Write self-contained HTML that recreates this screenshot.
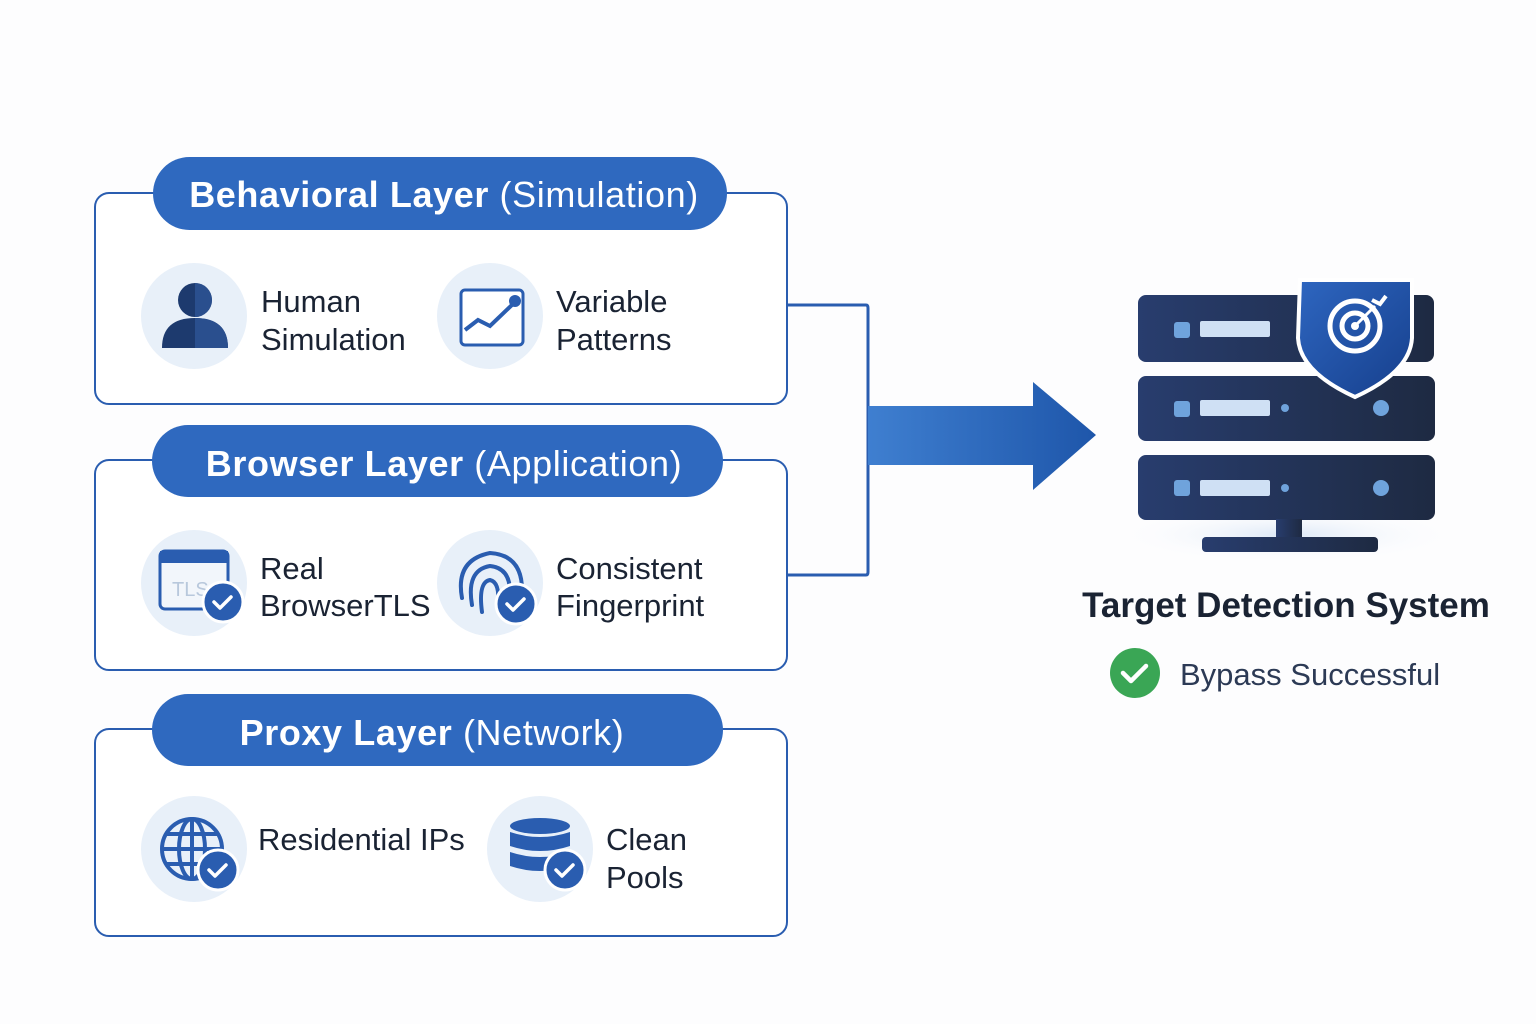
<!DOCTYPE html>
<html><head><meta charset="utf-8"><style>
html,body{margin:0;padding:0;background:#fdfdfe}
svg{display:block}
text{font-family:"Liberation Sans",sans-serif}
</style></head><body>
<svg width="1536" height="1024" viewBox="0 0 1536 1024" xmlns="http://www.w3.org/2000/svg">
<defs>
<linearGradient id="ar" x1="0" x2="1"><stop offset="0" stop-color="#3f7fd0"/><stop offset="1" stop-color="#1e56aa"/></linearGradient>
<linearGradient id="sv" x1="0" x2="1"><stop offset="0" stop-color="#283d6e"/><stop offset="1" stop-color="#1e2a42"/></linearGradient>
<linearGradient id="sh" x1="0" x2="1" y1="0" y2="1"><stop offset="0" stop-color="#2e66c0"/><stop offset="1" stop-color="#163f8c"/></linearGradient>
<radialGradient id="glow"><stop offset="0" stop-color="#dce8f7"/><stop offset="1" stop-color="#fdfdfe" stop-opacity="0"/></radialGradient>
</defs>
<rect width="1536" height="1024" fill="#fdfdfe"/>
<path d="M787 305 H866 Q868 305 868 308 V572 Q868 575 866 575 H787" fill="none" stroke="#2a5db0" stroke-width="3"/>
<path d="M868 406 H1033 V382 L1096 435 L1033 490 V465 H868 Z" fill="url(#ar)"/>
<g fill="#fff" stroke="#2a5db0" stroke-width="2">
<rect x="95" y="193" width="692" height="211" rx="14"/>
<rect x="95" y="460" width="692" height="210" rx="14"/>
<rect x="95" y="729" width="692" height="207" rx="14"/>
</g>
<g fill="#2f69bf">
<rect x="153" y="157" width="574" height="73" rx="36.5"/>
<rect x="152" y="425" width="571" height="72" rx="36"/>
<rect x="152" y="694" width="571" height="72" rx="36"/>
</g>
<g fill="#fff" font-size="36" text-anchor="middle" letter-spacing="0.6">
<text x="444" y="207"><tspan font-weight="bold">Behavioral Layer</tspan> (Simulation)</text>
<text x="444" y="476"><tspan font-weight="bold">Browser Layer</tspan> (Application)</text>
<text x="432" y="745"><tspan font-weight="bold">Proxy Layer</tspan> (Network)</text>
</g>
<g fill="#e8f0f9">
<circle cx="194" cy="316" r="53"/><circle cx="490" cy="316" r="53"/>
<circle cx="194" cy="583" r="53"/><circle cx="490" cy="583" r="53"/>
<circle cx="194" cy="849" r="53"/><circle cx="540" cy="849" r="53"/>
</g>
<circle cx="195" cy="300" r="17" fill="#1d3a6e"/>
<path d="M162 348 Q162 318 195 318 Q228 318 228 348 Z" fill="#1d3a6e"/>
<path d="M195 283 A17 17 0 0 1 195 317 Z M195 318 Q228 318 228 348 H195Z" fill="#2a4f8e"/>
<rect x="461" y="290" width="62" height="55" rx="4" fill="#fff" stroke="#2a5db0" stroke-width="3"/>
<polyline points="465,330 478,320 490,326 515,302" fill="none" stroke="#2a5db0" stroke-width="4"/>
<circle cx="515" cy="301" r="6" fill="#2a5db0"/>
<rect x="160" y="551" width="68" height="58" rx="5" fill="#f2f6fb" stroke="#2a5db0" stroke-width="3"/>
<rect x="160" y="551" width="68" height="12" fill="#2a5db0"/>
<text x="172" y="596" font-size="20" fill="#b8c8dc">TLS</text>
<g fill="none" stroke="#2a5db0" stroke-width="4" stroke-linecap="round">
<path d="M462 598 Q455 560 490 553 Q522 555 522 590"/>
<path d="M472 605 Q466 570 490 566 Q510 568 510 592"/>
<path d="M482 612 Q478 582 490 580 Q500 582 498 605"/>
</g>
<g fill="none" stroke="#2a5db0" stroke-width="4">
<circle cx="192" cy="849" r="30"/>
<ellipse cx="192" cy="849" rx="13" ry="30"/>
<path d="M162 849 H222 M167 834 H217 M167 864 H217 M192 819 V879"/>
</g>
<g fill="#2a5db0">
<ellipse cx="540" cy="826" rx="30" ry="8"/>
<path d="M510 832 Q540 842 570 832 V846 Q540 856 510 846Z"/>
<path d="M510 852 Q540 862 570 852 V866 Q540 876 510 866Z"/>
</g>
<g>
<circle cx="223" cy="602" r="20" fill="#2a5db0" stroke="#fff" stroke-width="3"/>
<circle cx="516" cy="604" r="20" fill="#2a5db0" stroke="#fff" stroke-width="3"/>
<circle cx="218" cy="870" r="20" fill="#2a5db0" stroke="#fff" stroke-width="3"/>
<circle cx="565" cy="870" r="20" fill="#2a5db0" stroke="#fff" stroke-width="3"/>
</g>
<g fill="none" stroke="#fff" stroke-width="3.5" stroke-linecap="round" stroke-linejoin="round">
<path d="M214 602 l6 6 l11 -11"/><path d="M507 604 l6 6 l11 -11"/>
<path d="M209 870 l6 6 l11 -11"/><path d="M556 870 l6 6 l11 -11"/>
</g>
<g font-size="31" fill="#1a2333">
<text x="261" y="312">Human</text><text x="261" y="350">Simulation</text>
<text x="556" y="312">Variable</text><text x="556" y="350">Patterns</text>
<text x="260" y="579">Real</text><text x="260" y="616">BrowserTLS</text>
<text x="556" y="579">Consistent</text><text x="556" y="616">Fingerprint</text>
<text x="258" y="850">Residential IPs</text>
<text x="606" y="850">Clean</text><text x="606" y="888">Pools</text>
</g>
<ellipse cx="1287" cy="535" rx="170" ry="28" fill="url(#glow)"/>
<g fill="url(#sv)">
<rect x="1138" y="295" width="296" height="67" rx="8"/>
<rect x="1138" y="376" width="297" height="65" rx="8"/>
<rect x="1138" y="455" width="297" height="65" rx="8"/>
<rect x="1276" y="519" width="26" height="18"/>
<rect x="1202" y="537" width="176" height="15" rx="4"/>
</g>
<g fill="#6fa3dc">
<rect x="1174" y="322" width="16" height="16" rx="3"/><rect x="1174" y="401" width="16" height="16" rx="3"/><rect x="1174" y="480" width="16" height="16" rx="3"/>
<circle cx="1285" cy="408" r="4"/><circle cx="1285" cy="488" r="4"/>
<circle cx="1381" cy="408" r="8"/><circle cx="1381" cy="488" r="8"/>
</g>
<g fill="#cfe0f4">
<rect x="1200" y="321" width="70" height="16" rx="2"/><rect x="1200" y="400" width="70" height="16" rx="2"/><rect x="1200" y="480" width="70" height="16" rx="2"/>
</g>
<path d="M1300 280 H1412 V338 Q1410 372 1355 397 Q1300 372 1298 338 Z" fill="url(#sh)" stroke="#fff" stroke-width="4"/>
<g fill="none" stroke="#fff" stroke-width="5">
<circle cx="1355" cy="326" r="25"/><circle cx="1355" cy="326" r="13"/>
</g>
<circle cx="1355" cy="326" r="4" fill="#fff"/>
<path d="M1355 326 L1375 306" stroke="#fff" stroke-width="3"/>
<path d="M1372 300 l8 4 l6 -8" stroke="#fff" stroke-width="4" fill="none"/>
<text x="1286" y="617" font-size="35" font-weight="bold" fill="#1a2333" text-anchor="middle">Target Detection System</text>
<circle cx="1135" cy="673" r="25" fill="#3aa655"/>
<path d="M1123 673 l8 8 l15 -15" fill="none" stroke="#fff" stroke-width="4.5" stroke-linecap="round" stroke-linejoin="round"/>
<text x="1180" y="685" font-size="31" fill="#2c3a55">Bypass Successful</text>
</svg>
</body></html>
